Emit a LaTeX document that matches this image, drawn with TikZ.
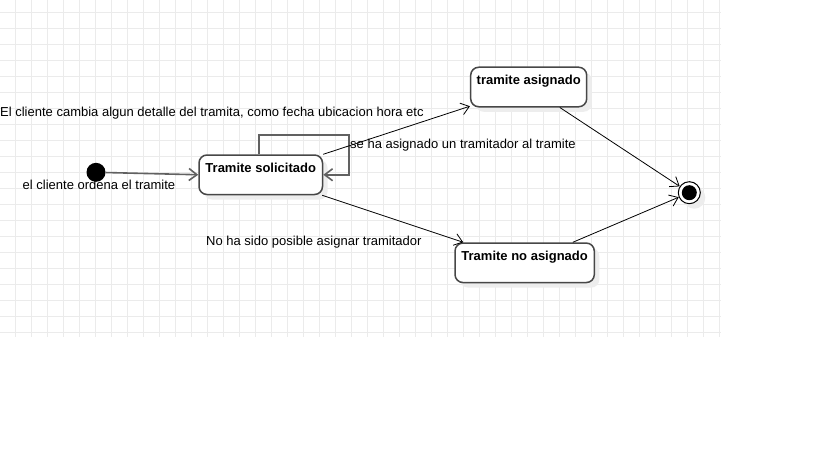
\documentclass[tikz,border=0pt]{standalone}
\usepackage{fontspec}
\setmainfont{Liberation Sans}
\usetikzlibrary{arrows.meta, shadows, positioning}

\tikzset{
	gridline/.style={draw=black!8, line width=0.9pt},
	state/.style={draw=black!72, line width=1.5pt, rounded corners=8pt, fill=white,
		font=\fontsize{13}{15}\selectfont\bfseries, inner xsep=2pt, inner ysep=8.2pt,
		text height=9.5pt, text depth=13.6pt, align=center,
		general shadow={fill=black!7, draw=none, shadow xshift=5pt, shadow yshift=-5pt}},
	startstate/.style={circle, fill=black, inner sep=0pt, minimum size=19pt},
	endstate/.style={circle, draw=black, line width=1pt, fill=white, inner sep=0pt, minimum size=22pt,
		path picture={\fill[black] (path picture bounding box.center) circle (7.5pt);},
		general shadow={circle, fill=black!7, draw=none, shadow xshift=5pt, shadow yshift=-5pt}},
	trans/.style={draw=black, line width=0.8pt, -{Straight Barb[length=8pt, width=12pt]}},
	graytrans/.style={draw=black!62, line width=1.6pt, -{Straight Barb[length=8pt, width=12pt]}},
	txt/.style={font=\fontsize{13}{15}\selectfont, inner sep=0pt, anchor=base west}
}

\begin{document}
\begin{tikzpicture}[x=1pt, y=-1pt]

	\useasboundingbox (0,0) rectangle (819,460);
	\fill[white] (0,0) rectangle (819,460);

%grid
	\foreach \gx in {15.5,31.5,...,719.5} \draw[gridline] (\gx,0) -- (\gx,337);
	\foreach \gy in {12.5,28.5,...,332.5} \draw[gridline] (0,\gy) -- (721,\gy);

%states
	\node [startstate] (inicio) at (96,172.3){};
	\node [state, minimum width=123.5pt] (solicitado) at (260.75,174.75){Tramite solicitado};
	\node [state, minimum width=116pt] (asignado) at (528.7,87){tramite asignado};
	\node [state, minimum width=139.3pt] (noasignado) at (524.65,262.8){Tramite no asignado};
	\node [endstate] (fin) at (689.3,192.7){};

%self loop
	\coordinate [] (LA) at (259,134.7){};
	\coordinate [] (LB) at (349,174.75){};
	\draw [graytrans] (solicitado.north -| LA) -- (LA) -| (LB) -- (solicitado.east);

%transitions
	\draw [graytrans] (inicio) -- (solicitado.west);
	\draw [trans] (solicitado) -- (asignado);
	\draw [trans] (solicitado) -- (noasignado);
	\draw [trans] (asignado) -- (fin);
	\draw [trans] (noasignado) -- (fin);

%labels
	\node [txt] (lcambia) at (0,116.7){El cliente cambia algun detalle del tramita, como fecha ubicacion hora etc};
	\node [txt] (lasigna) at (350,148.5){se ha asignado un tramitador al tramite};
	\node [txt] (lordena) at (22.5,189){el cliente ordena el tramite};
	\node [txt] (lnoposible) at (206,245){No ha sido posible asignar tramitador};

\end{tikzpicture}
\end{document}
